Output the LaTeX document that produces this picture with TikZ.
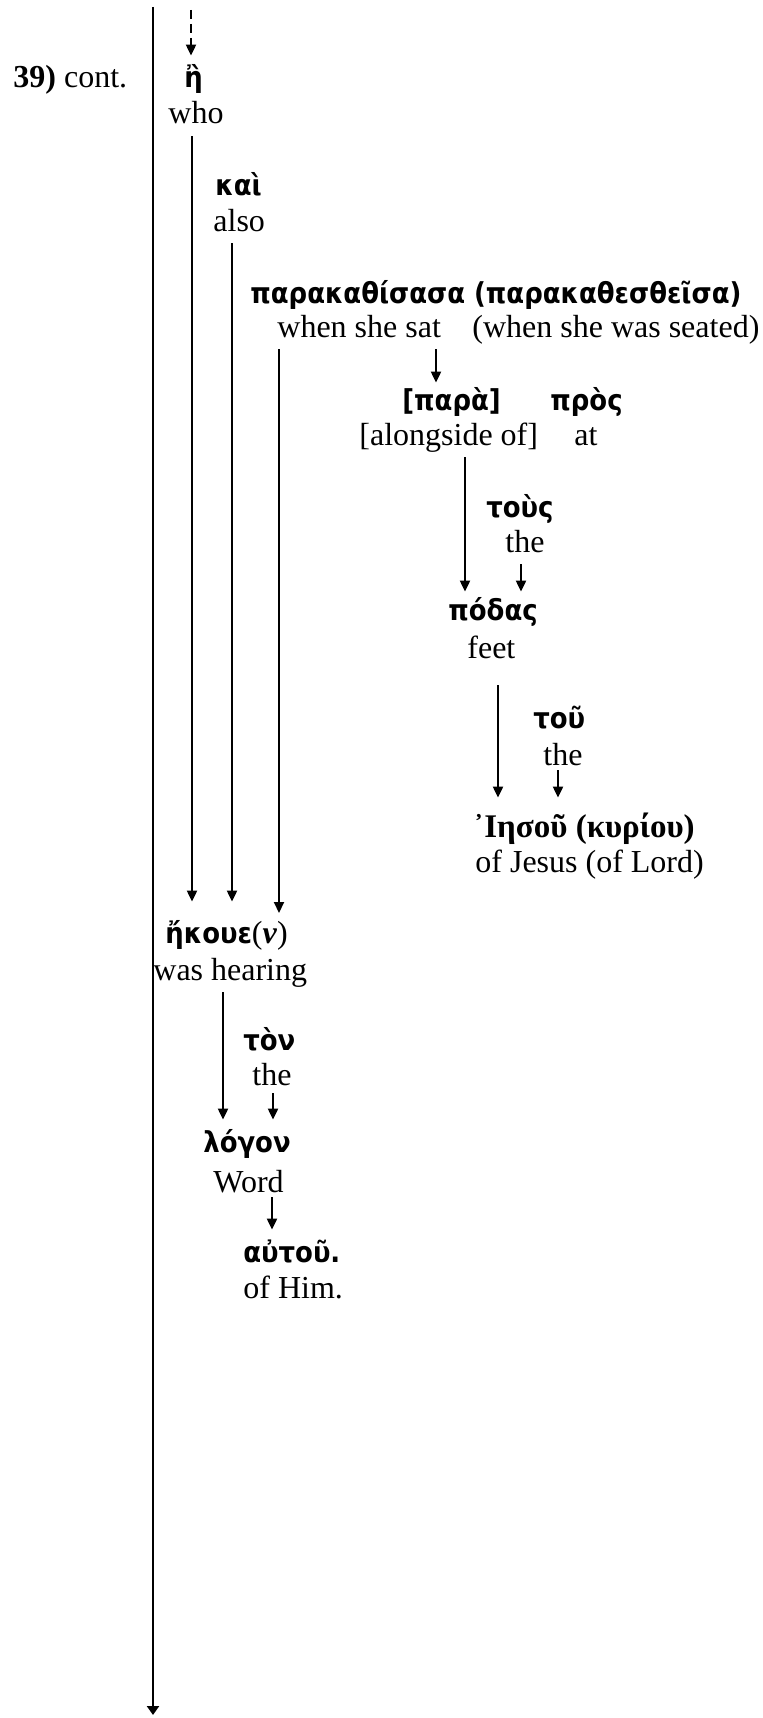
\documentclass[tikz,border=0pt]{standalone}
\usepackage{fontspec}
\setmainfont{Liberation Serif}
\newfontfamily\grk{DejaVu Sans Condensed}
\usetikzlibrary{arrows.meta}
\tikzstyle{arr}=[line width=1pt,-{Triangle[length=5.5pt,width=5pt]}]
\tikzstyle{gr}=[anchor=base west,inner xsep=0pt,inner ysep=6pt,text height=10pt,font=\grk\bfseries\fontsize{14.4}{16}\selectfont]
\tikzstyle{en}=[anchor=base west,inner xsep=0pt,inner ysep=6pt,text depth=0pt,font=\fontsize{16}{18}\selectfont]

\begin{document}
\begin{tikzpicture}[x=0.5pt,y=-0.5pt]
	\useasboundingbox (0,0) rectangle (762,1718);
	% main line
	\coordinate (top) at (153,7);
	\coordinate (bot) at (153,1715);
	\draw[arr,line width=1.3pt,-{Triangle[length=4.5pt,width=6pt]}] (top) -- (bot);
	\node[en] (num) at (13,88) {\textbf{39)} cont.};
	% words
	\node[gr] (eta) at (184,88) {ἢ};
	\node[en] (who) at (168,124) {who};
	\node[gr] (kai) at (215,195) {καὶ};
	\node[en] (also) at (213,231) {also};
	\node[gr] (para) at (250,303) {παρακαθίσασα (παρακαθεσθεῖσα)};
	\node[en] (sat) at (277,337) {when she sat};
	\node[en] (seated) at (472,337) {(when she was seated)};
	\node[gr,inner ysep=3.5pt] (paraa) at (402,410) {[παρὰ]};
	\node[gr] (pros) at (550,410) {πρὸς};
	\node[en] (along) at (359,445) {[alongside of]};
	\node[en] (at) at (574,445) {at};
	\node[gr] (tous) at (486,517) {τοὺς};
	\node[en] (the1) at (505,552) {the};
	\node[gr,inner ysep=4pt] (podas) at (448,620) {πόδας};
	\node[en,inner ysep=13.5pt] (feet) at (467,658) {feet};
	\node[gr] (tou) at (533,728) {τοῦ};
	\node[en,inner ysep=2.5pt] (the2) at (543,765) {the};
	\node[gr,inner ysep=9.5pt,font=\bfseries\fontsize{16.5}{19}\selectfont] (iesou) at (473,837) {᾿Ιησοῦ (κυρίου)};
	\node[en] (jesus) at (475,872) {of Jesus (of Lord)};
	\node[gr,inner ysep=10.5pt] (ekoue) at (165,943) {ἤκουε{\normalfont\fontsize{16}{18}\selectfont(\textbf{\textit{ν}})}};
	\node[en] (hearing) at (153,980) {was hearing};
	\node[gr] (ton) at (243,1050) {τὸν};
	\node[en,inner ysep=4pt] (the3) at (252,1085) {the};
	\node[gr] (logon) at (203,1152) {λόγον};
	\node[en,inner ysep=2.5pt] (word) at (213,1192) {Word};
	\node[gr] (autou) at (243,1262) {αὐτοῦ.};
	\node[en] (him) at (243,1298) {of Him.};
	% columns of the connectors
	\coordinate (dtop) at (191,10);
	\coordinate (colwho) at (192,0);
	\coordinate (colkai) at (232,0);
	\coordinate (colsat) at (279,0);
	\coordinate (colpara) at (436,0);
	\coordinate (colalong) at (465,0);
	\coordinate (coltous) at (521,0);
	\coordinate (colfeet) at (498,0);
	\coordinate (coltou) at (558,0);
	\coordinate (colhear) at (223,0);
	\coordinate (colton) at (273,0);
	\coordinate (colword) at (272,0);
	\coordinate (satend) at (279,913);
	% connectors
	\draw[arr,dash pattern=on 4.5pt off 2.5pt] (dtop) -- (dtop |- eta.north);
	\draw[arr] (who.south -| colwho) -- (ekoue.north -| colwho);
	\draw[arr] (also.south -| colkai) -- (ekoue.north -| colkai);
	\draw[arr] (sat.south -| colsat) -- (satend);
	\draw[arr] (sat.south -| colpara) -- (paraa.north -| colpara);
	\draw[arr] (along.south -| colalong) -- (podas.north -| colalong);
	\draw[arr] (the1.south -| coltous) -- (podas.north -| coltous);
	\draw[arr] (feet.south -| colfeet) -- (iesou.north -| colfeet);
	\draw[arr] (the2.south -| coltou) -- (iesou.north -| coltou);
	\draw[arr] (hearing.south -| colhear) -- (logon.north -| colhear);
	\draw[arr] (the3.south -| colton) -- (logon.north -| colton);
	\draw[arr] (word.south -| colword) -- (autou.north -| colword);
\end{tikzpicture}
\end{document}
